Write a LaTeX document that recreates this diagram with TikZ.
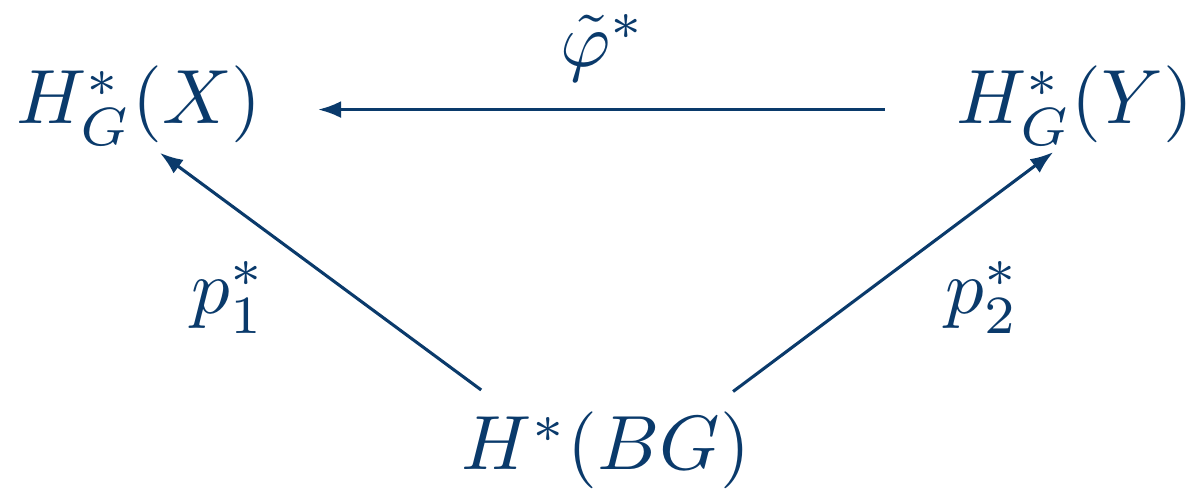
\documentclass[tikz,border=0pt]{standalone}
\definecolor{navy}{HTML}{0A3A6B}
\usepackage{amsmath,amssymb}
\usetikzlibrary{arrows.meta}

\begin{document}
\begin{tikzpicture}[
        x=0.13pt, y=-0.13pt,
        every node/.style={inner sep=0pt, color=navy},
        obj/.style={anchor=base},
        arr/.style={-{Latex[length=3pt,width=2.2pt]}, color=navy, line width=0.4pt}
      ]
        \useasboundingbox (0,0) rectangle (1191,492);
        \node[obj, anchor=base west] (hx) at (15,124) {$H^*_G(X)$};
        \node[obj, anchor=base east] (hy) at (1195,124) {$H^*_G(Y)$};
        \node[obj] (bg) at (606,470) {$H^*(BG)$};

        \draw[arr, shorten <=9.1pt, shorten >=7.1pt] ([yshift=-0.5pt]hy.west) -- ([yshift=-0.5pt]hx.east);
        \draw[arr] ([shift={(2.7pt,2.7pt)}]bg.north west) -- ([shift={(2.7pt,-0.8pt)}]hx.south);
        \draw[arr] ([shift={(-2.4pt,2.5pt)}]bg.north east) -- ([shift={(-2.8pt,-0.7pt)}]hy.south);

        \node[obj] (phi) at (603,67) {$\tilde{\varphi}^*$};
        \node[obj] (p1) at (229,314) {$p_1^*$};
        \node[obj] (p2) at (983,314) {$p_2^*$};
      \end{tikzpicture}
\end{document}
